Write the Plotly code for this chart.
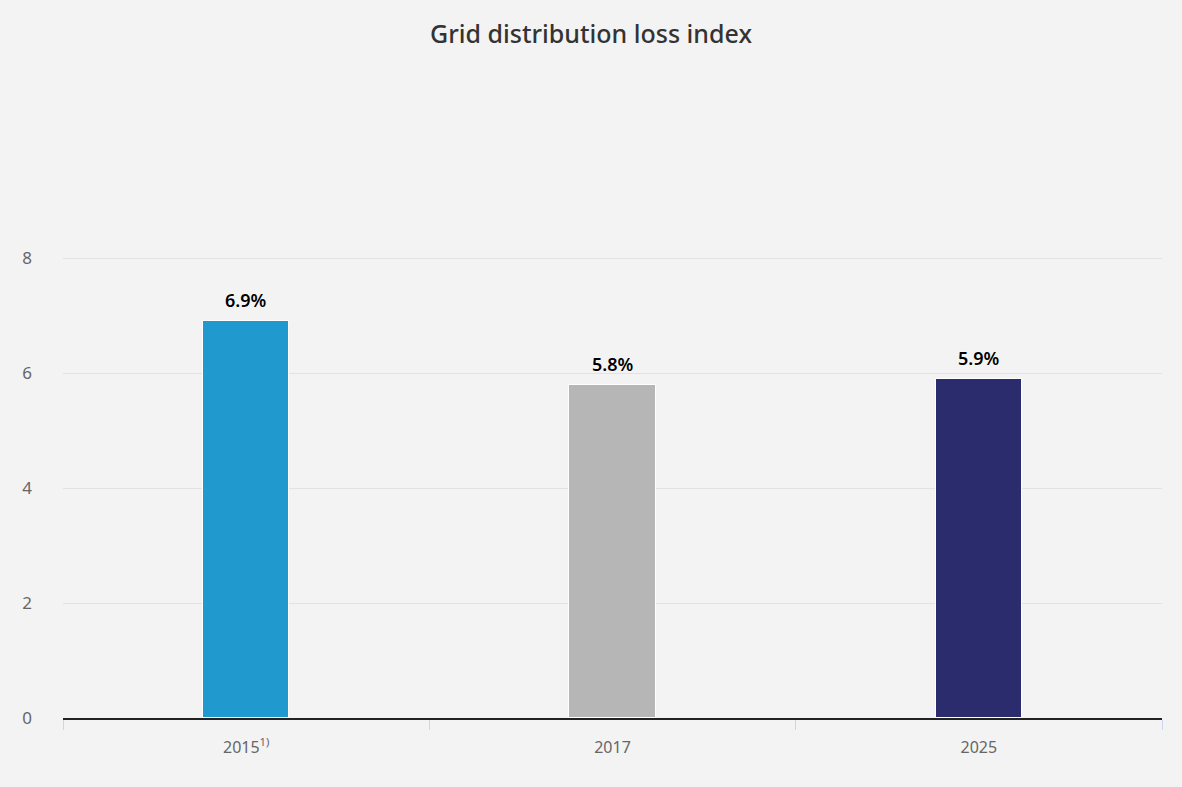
import plotly.graph_objects as go

categories = ["2015", "2017", "2025"]
tick_labels = ["2015<sup>1)</sup>", "2017", "2025"]
values = [6.9, 5.8, 5.9]
value_labels = ["6.9%", "5.8%", "5.9%"]
bar_colors = ["#2099cf", "#b6b6b6", "#2a2c6d"]

fig = go.Figure()
fig.add_trace(go.Bar(
    x=categories, y=values,
    marker=dict(color=bar_colors, line=dict(color="#ffffff", width=1)),
    width=0.235,
    hoverinfo="skip",
))

# category axis: annotations are placed by category serial number
for i, (val, lab) in enumerate(zip(values, value_labels)):
    fig.add_annotation(
        x=i, y=val, text=lab, showarrow=False,
        xanchor="center", yanchor="bottom", yshift=7,
        font=dict(family="Noto Sans", size=18, weight=600, color="#000000",
                  shadow="0px 0px 2px #ffffff"),
    )

fig.update_layout(
    width=1182, height=787,
    paper_bgcolor="#f3f3f3", plot_bgcolor="#f3f3f3",
    margin=dict(l=63, r=20, t=257, b=69),
    title=dict(text="Grid distribution loss index", x=0.5, xanchor="center",
               y=1 - 34/787, yref="container", yanchor="middle",
               font=dict(family="Noto Sans", size=25, weight=500, color="#333333")),
    showlegend=False,
    bargap=0,
)
fig.update_xaxes(
    type="category", tickmode="array", tickvals=categories, ticktext=tick_labels,
    range=[-0.5, len(categories) - 0.5],
    tickson="boundaries", ticks="outside", ticklen=10, tickcolor="#ccd6eb", tickwidth=1,
    showline=True, linecolor="#222222", linewidth=2,
    showgrid=False, ticklabelstandoff=14,
    tickfont=dict(family="Noto Sans", size=16, color="#666666"),
)
fig.update_yaxes(
    range=[0, 8.02], tickvals=[0, 2, 4, 6, 8],
    showgrid=True, gridcolor="#e2e2e2", gridwidth=1,
    zeroline=False, showline=False,
    ticks="", ticklabelstandoff=30,
    tickfont=dict(family="Noto Sans", size=17, color="#666666"),
)

fig.write_html("out.html", config={"displayModeBar": False},
               post_script="document.body.style.margin='0';document.body.style.overflow='hidden';")
